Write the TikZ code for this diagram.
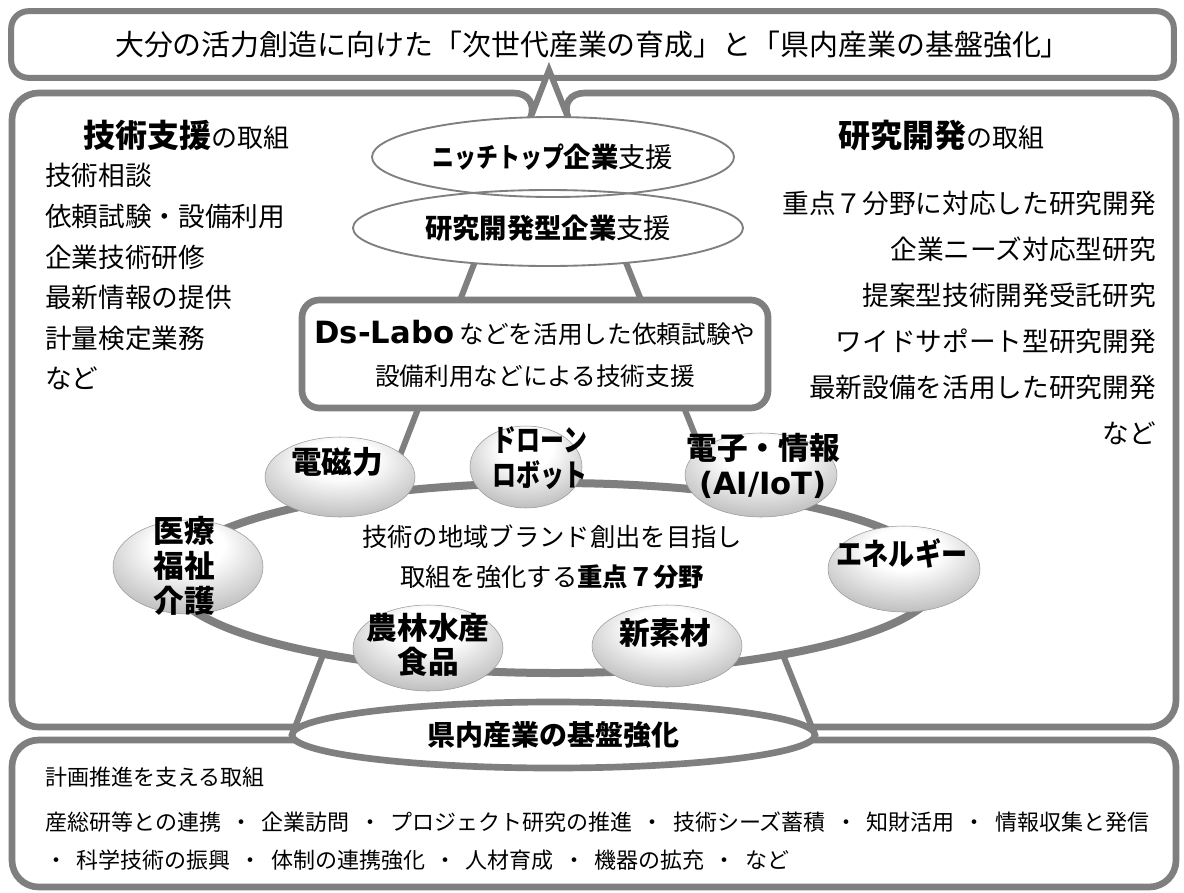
\documentclass[tikz,border=0pt]{standalone}
\usepackage{fontspec}
\usepackage{graphicx}
\setmainfont{Noto Sans CJK JP}
\newfontfamily\dv{DejaVu Sans}
\usetikzlibrary{shapes.geometric}
\definecolor{lg}{RGB}{127,127,127}
\pgfdeclareradialshading{orb}{\pgfpoint{0bp}{14bp}}{color(0bp)=(white); color(12bp)=(white); color(36bp)=(white!70!black); color(52bp)=(white!52!black); color(64bp)=(white!45!black)}
\newcommand\sepdot{\hspace{7pt}・\hspace{7pt}}
\begin{document}
\begin{tikzpicture}[x=0.75pt,y=-0.75pt,
  topbox/.style={rectangle, draw=lg, fill=white, line width=4.5pt, rounded corners=13pt, minimum width=872pt, minimum height=50pt, inner sep=0pt, font=\fontsize{21.7}{26}\selectfont},
  panel/.style={draw=lg, line width=5pt, rounded corners=20pt},
  footbox/.style={rectangle, draw=lg, line width=5pt, rounded corners=20pt, minimum width=873pt, minimum height=110.25pt, inner sep=0pt},
  leg/.style={draw=lg, line width=4.5pt, line join=miter},
  ringE/.style={ellipse, draw=lg, line width=6pt, fill=white, inner sep=0pt, minimum width=577.5pt, minimum height=142.5pt},
  upE/.style={ellipse, draw=lg, line width=1.4pt, inner sep=0pt, font=\fontsize{20.5}{24}\selectfont},
  dsbox/.style={rectangle, draw=lg, line width=5pt, rounded corners=13pt, fill=white, inner sep=0pt, align=center, minimum width=349.5pt, minimum height=81pt, font=\fontsize{18.5}{31.5}\selectfont},
  orbE/.style={ellipse, shading=orb, inner sep=0pt, draw=white!60!black, line width=0.4pt},
  orbT/.style={font=\bfseries\fontsize{23}{26}\selectfont, align=center, inner sep=0pt},
  baseE/.style={ellipse, draw=lg, line width=5pt, fill=white, inner sep=0pt, minimum width=392.25pt, minimum height=49.5pt, font=\bfseries\fontsize{21}{24}\selectfont},
  listL/.style={anchor=west, inner sep=0pt, font=\fontsize{20}{24}\selectfont},
  listR/.style={anchor=east, inner sep=0pt, font=\fontsize{20}{24}\selectfont},
  foottext/.style={anchor=west, inner sep=0pt, font=\fontsize{16.5}{20}\selectfont},
  centertext/.style={inner sep=0pt, align=center, font=\fontsize{19}{30}\selectfont}
]
\useasboundingbox (0,0) rectangle (1184,892);
\fill[white] (0,0) rectangle (1184,892);

% top box
\node[topbox] (title) at (592.5,44.5) {大分の活力創造に向けた「次世代産業の育成」と「県内産業の基盤強化」};

% middle panel
\draw[panel] (523.9,135) -- (540.1,93) -- (12,93) -- (12,727) -- (1176,727) -- (1176,93) -- (558.2,93) -- (575,135);

% bottom box
\node[footbox] (foot) at (594,813.5) {};

% pyramid legs
\coordinate (apex) at (549,70);
\coordinate (bl) at (292,735);
\coordinate (br) at (815,735);
\fill[white] (apex) -- (527.7,125) -- (571,125) -- cycle;
\draw[leg] (bl) -- (apex) -- (br);

% ring
\node[ringE] (ring) at (555,578) {};

% upper ellipses
\fill[white] (553,157) ellipse [x radius=135.75pt, y radius=30pt];
\fill[white] (548,228) ellipse [x radius=146.25pt, y radius=28.5pt];
\node[upE, minimum width=271.5pt, minimum height=60pt] (niche) at (553,157) {\textbf{\scalebox{0.8}[1]{ニッチトップ}企業}支援};
\node[upE, minimum width=292.5pt, minimum height=57pt] (kaihatsu) at (548,228) {\textbf{研究開発型企業}支援};

% Ds-Labo box
\node[dsbox] (ds) at (535,354) {{\dv\bfseries\fontsize{23}{31.5}\selectfont Ds-Labo} などを活用した依頼試験や\\設備利用などによる技術支援};

% seven fields
\node[orbE, minimum width=112.5pt, minimum height=60pt] (denjiE) at (340,477) {};
\node[orbE, minimum width=84pt, minimum height=61.5pt] (droneE) at (526,467) {};
\node[orbE, minimum width=114pt, minimum height=63pt] (denshiE) at (761,475) {};
\node[orbE, minimum width=114pt, minimum height=64.5pt] (eneE) at (904,569) {};
\node[orbE, minimum width=112.5pt, minimum height=61.5pt] (sozaiE) at (667,646) {};
\node[orbE, minimum width=112.5pt, minimum height=64.5pt] (nourinE) at (428,648) {};
\node[orbE, minimum width=112.5pt, minimum height=70.5pt] (iryoE) at (188,567) {};

\node[orbT] (denjiT) at (337,462) {電磁力};
\node[orbT] (droneT) at (540,458) {\scalebox{0.78}[1]{ドローン}\\\scalebox{0.78}[1]{ロボット}};
\node[orbT] (denshiT) at (763,466) {電子・情報\\{\dv\bfseries\fontsize{23}{26}\selectfont (AI/IoT)}};
\node[orbT] (eneT) at (902,553) {\scalebox{0.85}[1]{エネルギー}};
\node[orbT] (sozaiT) at (665,633) {新素材};
\node[orbT] (nourinT) at (428,645) {農林水産\\食品};
\node[orbT] (iryoT) at (184,566) {医療\\福祉\\介護};

\node[centertext] (center) at (552,557) {技術の地域ブランド創出を目指し\\取組を強化する\textbf{重点７分野}};

% base ellipse
\node[baseE] (base) at (553.5,735) {県内産業の基盤強化};

% headers
\node[anchor=west, inner sep=0pt] (hl) at (83,135) {{\bfseries\fontsize{24}{28}\selectfont 技術支援}{\fontsize{19.5}{24}\selectfont の取組}};
\node[anchor=east, inner sep=0pt] (hr) at (1045,135) {{\bfseries\fontsize{24}{28}\selectfont 研究開発}{\fontsize{19.5}{24}\selectfont の取組}};

% left list
\node[listL] (l1) at (45,175) {技術相談};
\node[listL] (l2) at (45,216) {依頼試験・設備利用};
\node[listL] (l3) at (45,257) {企業技術研修};
\node[listL] (l4) at (45,297) {最新情報の提供};
\node[listL] (l5) at (45,338) {計量検定業務};
\node[listL] (l6) at (45,378) {など};

% right list
\node[listR] (r1) at (1156,203) {重点７分野に対応した研究開発};
\node[listR] (r2) at (1156,249) {企業ニーズ対応型研究};
\node[listR] (r3) at (1156,295) {提案型技術開発受託研究};
\node[listR] (r4) at (1156,341) {ワイドサポート型研究開発};
\node[listR] (r5) at (1156,387) {最新設備を活用した研究開発};
\node[listR] (r6) at (1156,433) {など};

% bottom texts
\node[foottext] (b0) at (45,777) {計画推進を支える取組};
\node[foottext] (b1) at (45,822) {産総研等との連携\sepdot 企業訪問\sepdot プロジェクト研究の推進\sepdot 技術シーズ蓄積\sepdot 知財活用\sepdot 情報収集と発信};
\node[foottext] (b2) at (45,860) {・\hspace{7pt}科学技術の振興\sepdot 体制の連携強化\sepdot 人材育成\sepdot 機器の拡充\sepdot など};
\end{tikzpicture}
\end{document}
